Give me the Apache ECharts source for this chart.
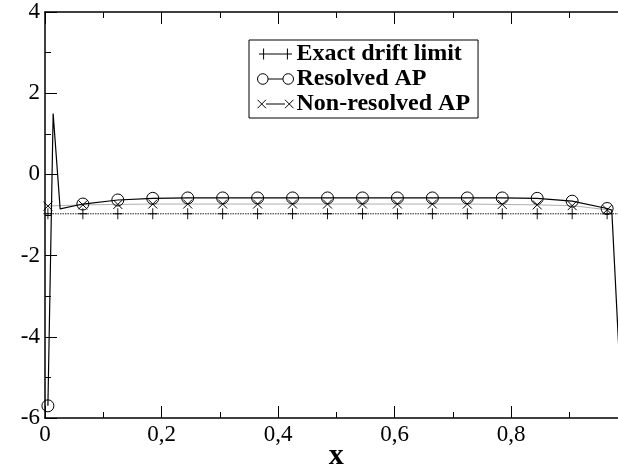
<!DOCTYPE html>
<html>
<head>
<meta charset="utf-8">
<script src="https://cdn.jsdelivr.net/npm/echarts@6/dist/echarts.min.js"></script>
<style>html,body{margin:0;padding:0;background:#fff}#c{width:618px;height:468px}</style>
</head>
<body>
<div id="c"></div>
<script>
// ---- data ----
const markerX = [0.005, 0.065, 0.125, 0.185, 0.245, 0.305, 0.365, 0.425, 0.485, 0.545, 0.605, 0.665, 0.725, 0.785, 0.845, 0.905, 0.965];
const exactY = [-0.97, -0.97, -0.97, -0.97, -0.97, -0.97, -0.97, -0.97, -0.97, -0.97, -0.97, -0.97, -0.97, -0.97, -0.97, -0.97, -0.97];
const exactEnds = [[0, -0.97], [1, -0.97]];
const resolvedY = [-5.7, -0.73, -0.63, -0.59, -0.58, -0.58, -0.58, -0.58, -0.58, -0.58, -0.58, -0.58, -0.58, -0.58, -0.59, -0.66, -0.84];
const resolvedExtra = [[0.014, 1.5], [0.026, -0.85], [0.973, -0.88], [0.99, -5.7]];
const nonResolvedY = [-0.78, -0.75, -0.74, -0.73, -0.73, -0.73, -0.73, -0.73, -0.73, -0.73, -0.73, -0.73, -0.73, -0.74, -0.75, -0.77, -0.87];
const seriesNames = ['Exact drift limit', 'Resolved AP', 'Non-resolved AP'];
const xTickLabels = ['0', '0,2', '0,4', '0,6', '0,8'];
const yTicks = [-6, -4, -2, 0, 2, 4];

function build(ys, extra) {
  const pts = markerX.map((x, i) => ({ value: [x, ys[i]] }));
  extra.forEach(p => pts.push({ value: p, symbol: 'none' }));
  pts.sort((a, b) => a.value[0] - b.value[0]);
  return pts;
}

const plusSym = 'path://M5,0V12M0,6H10';
const crossSym = 'path://M0,0L10,10M10,0L0,10';
const serif = 'Liberation Serif';

const chart = echarts.init(document.getElementById('c'), null, { renderer: 'canvas' });
chart.setOption({
  animation: false,
  backgroundColor: '#fff',
  grid: { left: 45, top: 12, width: 582.5, height: 406, show: false, containLabel: false, outerBoundsMode: 'none' },
  legend: {
    orient: 'vertical',
    left: 249, top: 40,
    padding: [2, 8, 2, 6],
    itemGap: 1,
    itemWidth: 36, itemHeight: 11,
    borderColor: '#000', borderWidth: 1,
    backgroundColor: '#fff',
    textStyle: { fontFamily: serif, fontWeight: 'bold', fontSize: 24, lineHeight: 24, color: '#000', padding: [0, 0, 0, -2] },
    itemStyle: { color: 'none', borderColor: '#000', borderWidth: 1 },
    data: [
      { name: seriesNames[0], icon: 'path://M0,6H10M5,0V12M10,6H26M26,6H36M31,0V12' },
      { name: seriesNames[1], icon: 'path://M1,6A5,5 0 1,1 11,6A5,5 0 1,1 1,6ZM11,6H25M25,6A5,5 0 1,1 35,6A5,5 0 1,1 25,6Z' },
      { name: seriesNames[2], icon: 'path://M1,2L9,10M9,2L1,10M9,6H27M27,2L35,10M35,2L27,10' }
    ]
  },
  xAxis: [{
    type: 'value', min: 0, max: 1, interval: 0.2,
    name: 'x', nameLocation: 'middle', nameGap: 23, nameMoveOverlap: false,
    nameTextStyle: { fontFamily: serif, fontWeight: 'bold', fontSize: 30, color: '#000' },
    axisLine: { show: true, onZero: false, lineStyle: { color: '#000', width: 1.5 } },
    axisTick: { show: true, inside: true, length: 12, lineStyle: { color: '#000' } },
    minorTick: { show: true, splitNumber: 2, length: 6, lineStyle: { color: '#000' } },
    splitLine: { show: false },
    axisLabel: { fontFamily: serif, fontSize: 23, color: '#000', margin: 5,
      formatter: v => { const i = Math.round(v / 0.2); return xTickLabels[i] || ''; } }
  }, {
    type: 'value', position: 'top', min: 0, max: 1, interval: 0.2,
    axisLine: { show: true, onZero: false, lineStyle: { color: '#000', width: 1.5 } },
    axisTick: { show: true, inside: true, length: 12, lineStyle: { color: '#000' } },
    minorTick: { show: true, splitNumber: 2, length: 6, lineStyle: { color: '#000' } },
    splitLine: { show: false },
    axisLabel: { show: false }
  }],
  yAxis: [{
    type: 'value', min: -6, max: 4, interval: 2,
    axisLine: { show: true, onZero: false, lineStyle: { color: '#000', width: 1.5 } },
    axisTick: { show: true, inside: true, length: 12, lineStyle: { color: '#000' } },
    minorTick: { show: true, splitNumber: 2, length: 6, lineStyle: { color: '#000' } },
    splitLine: { show: false },
    axisLabel: { fontFamily: serif, fontSize: 23, color: '#000', margin: 5,
      formatter: v => yTicks.includes(v) ? String(v) : '' }
  }],
  series: [{
    name: seriesNames[0], type: 'line', z: 2,
    data: build(exactY, exactEnds),
    lineStyle: { color: '#222', width: 1, type: [1.5, 1] },
    symbol: plusSym, symbolSize: [9, 11],
    itemStyle: { color: 'none', borderColor: '#000', borderWidth: 1 }
  }, {
    name: seriesNames[2], type: 'line', z: 3,
    data: build(nonResolvedY, []),
    lineStyle: { color: '#b0b0b0', width: 1 },
    symbol: crossSym, symbolSize: [9, 9],
    itemStyle: { color: 'none', borderColor: '#000', borderWidth: 1 }
  }, {
    name: seriesNames[1], type: 'line', z: 4,
    data: build(resolvedY, resolvedExtra),
    lineStyle: { color: '#000', width: 1.2 },
    symbol: 'circle', symbolSize: 12,
    itemStyle: { color: 'none', borderColor: '#000', borderWidth: 1 }
  }]
});
</script>
</body>
</html>
